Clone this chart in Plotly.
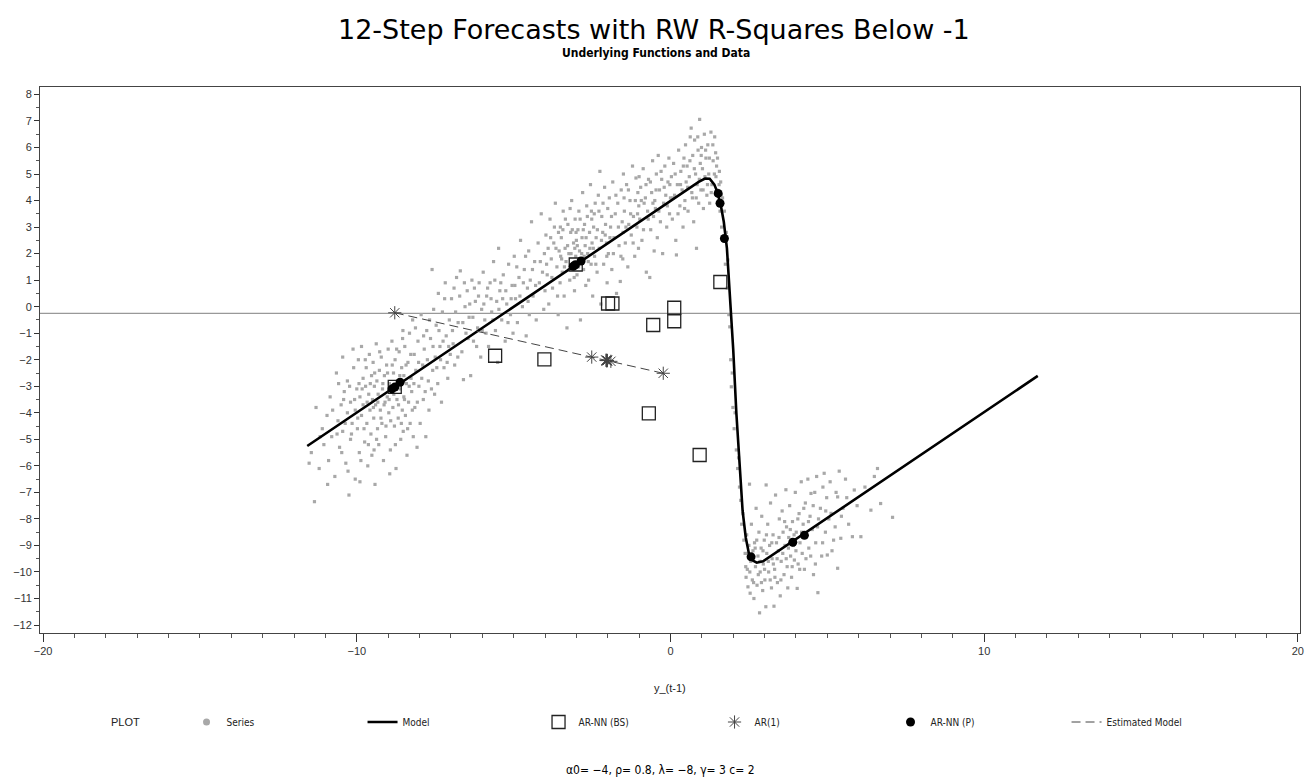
import plotly.graph_objects as go

# ---------------- data ----------------
series_left = [
    [-11.45, -5.5], [-11.35, -7.35], [-11.3, -3.8], [-11.2, -6.1], [-11.1, -4.6], [-11.05, -5.2],
    [-10.95, -4.1], [-10.9, -5.8], [-10.85, -3.4], [-10.8, -4.9], [-10.7, -6.4], [-10.65, -2.5],
    [-10.6, -4.3], [-10.55, -5.3], [-10.5, -3.7],
    [-10.45, -1.9], [-10.45, -4.7], [-10.4, -3.2], [-10.35, -5.9], [-10.3, -4.0], [-10.3, -2.8],
    [-10.25, -7.1], [-10.2, -3.6], [-10.2, -5.0], [-10.15, -4.4], [-10.1, -2.3], [-10.05, -3.9],
    [-10.05, -6.5], [-10.0, -3.1],
    [-9.98, -4.6], [-9.95, -2.0], [-9.92, -5.5], [-9.9, -3.4], [-9.85, -1.5], [-9.85, -4.1],
    [-9.8, -2.7], [-9.8, -3.7], [-9.75, -5.1], [-9.72, -3.0], [-9.7, -2.3], [-9.68, -4.4],
    [-9.65, -6.0], [-9.62, -3.3], [-9.6, -1.8], [-9.58, -3.9], [-9.55, -4.8], [-9.53, -2.6],
    [-9.52, -5.6], [-9.5, -3.5],
    [-9.48, -2.1], [-9.46, -4.2], [-9.44, -3.0], [-9.42, -6.7], [-9.4, -3.7], [-9.38, -1.4],
    [-9.36, -2.8], [-9.34, -4.6], [-9.32, -3.3], [-9.3, -5.2], [-9.28, -2.4], [-9.25, -3.9],
    [-9.22, -1.9], [-9.2, -4.4], [-9.18, -3.1], [-9.15, -5.8], [-9.12, -2.6], [-9.1, -3.6],
    [-9.08, -4.9], [-9.05, -2.2], [-9.03, -3.4], [-9.0, -1.6],
    [-8.98, -4.0], [-8.96, -2.9], [-8.93, -5.4], [-8.9, -3.2], [-8.88, -1.3], [-8.85, -3.8],
    [-8.83, -2.5], [-8.8, -4.5], [-8.78, -2.0], [-8.75, -6.1], [-8.72, -3.5], [-8.7, -2.8],
    [-8.68, -4.2], [-8.65, -1.7], [-8.62, -3.1], [-8.6, -5.0], [-8.57, -2.3], [-8.55, -3.9],
    [-8.53, -0.9], [-8.52, -4.7], [-8.5, -2.6], [-8.5, -3.4],
    [-8.47, -1.5], [-8.45, -4.1], [-8.42, -2.9], [-8.4, -5.6], [-8.37, -2.1], [-8.35, -3.6],
    [-8.32, -1.0], [-8.3, -4.4], [-8.27, -2.7], [-8.25, -3.2], [-8.22, -0.5], [-8.2, -4.9],
    [-8.17, -1.8], [-8.15, -3.8], [-8.12, -2.4], [-8.08, -5.3], [-8.05, -1.3], [-8.02, -3.0],
    [-7.98, -4.4], [-7.95, -0.3], [-7.9, -2.2], [-7.88, -3.5], [-7.85, -1.6], [-7.8, -4.9],
    [-7.77, -0.9], [-7.72, -2.8], [-7.7, -3.9], [-7.65, -1.2], [-7.6, 1.4], [-7.58, -2.4],
    [-7.55, -0.1], [-7.52, -3.3], [-7.5, -1.9],
    [-7.47, -0.7], [-7.42, -2.9], [-7.4, 0.5], [-7.35, -1.5], [-7.3, -3.6], [-7.27, -0.2],
    [-7.22, -2.3], [-7.18, 0.9], [-7.15, -1.1], [-7.1, -2.7], [-7.05, -0.5], [-7.02, -1.8],
    [-11.52, -5.9], [-11.17, -4.9], [-10.93, -6.7], [-10.77, -3.9], [-10.63, -4.8], [-10.58, -2.9],
    [-10.42, -3.5], [-10.37, -4.4], [-10.28, -6.2], [-10.23, -3.0], [-10.17, -4.8], [-10.12, -1.6],
    [-10.07, -3.5], [-9.97, -4.2], [-9.93, -2.9], [-9.87, -5.8], [-9.83, -3.1], [-9.77, -4.6],
    [-9.73, -2.0], [-9.67, -3.6], [-9.63, -5.2], [-9.57, -2.9], [-9.47, -3.8], [-9.43, -2.5],
    [-9.37, -5.0], [-9.33, -3.6], [-9.27, -1.7], [-9.23, -4.2], [-9.17, -2.9], [-9.13, -3.7],
    [-9.07, -4.5], [-9.02, -2.5], [-8.97, -3.5], [-8.92, -4.3], [-8.87, -2.2], [-8.82, -3.3],
    [-8.77, -5.2], [-8.73, -1.6], [-8.67, -3.7], [-8.63, -2.6], [-8.58, -4.4], [-8.54, -1.2],
    [-8.48, -3.5], [-8.43, -2.2], [-8.38, -4.6], [-8.33, -3.0], [-8.28, -1.8], [-8.23, -3.9],
    [-8.18, -2.9], [-8.13, -0.8], [-8.07, -3.6], [-8.03, -2.1], [-7.93, -2.7], [-7.87, -1.1],
    [-7.82, -3.2], [-7.75, -2.0], [-7.68, -0.5], [-7.62, -3.1], [-7.57, -1.5], [-7.45, -2.3],
    [-7.38, -0.9], [-7.33, -2.0], [-7.25, -1.3], [-7.2, 0.3], [-7.12, -2.1], [-7.07, -1.5],
    [-10.48, -5.5], [-9.9, -6.6], [-9.45, -5.4], [-8.95, -6.3],
]

series_middle = [
    [-6.98, 0.3], [-6.93, -1.4], [-6.88, -2.2], [-6.82, 1.1], [-6.77, -0.6], [-6.7, 1.35],
    [-6.65, -1.7], [-6.6, -2.75], [-6.55, 0.0], [-6.52, -1.0],
    [-6.48, 0.6], [-6.42, -0.4], [-6.37, -2.6], [-6.33, 1.0], [-6.28, -1.3], [-6.22, 0.2],
    [-6.15, -0.8], [-6.1, 0.9], [-6.05, -1.9], [-6.02, -0.1],
    [-5.97, 1.3], [-5.92, -0.5], [-5.86, 0.4], [-5.8, -1.5], [-5.75, 0.9], [-5.7, -0.2],
    [-5.64, 1.7], [-5.58, -0.9], [-5.54, 0.2], [-5.51, -2.1],
    [-5.48, 2.2], [-5.44, 0.6], [-5.38, -0.5], [-5.33, 1.2], [-5.27, -1.3], [-5.22, 0.1],
    [-5.16, 1.6], [-5.1, -0.3], [-5.05, 0.8], [-5.02, -1.0],
    [-4.98, 1.9], [-4.94, 0.3], [-4.88, -0.6], [-4.83, 1.1], [-4.78, 2.5], [-4.72, 0.0],
    [-4.66, 1.4], [-4.6, -1.1], [-4.56, 0.7], [-4.52, 2.1], [-4.5, -0.3],
    [-4.47, 1.0], [-4.43, 3.2], [-4.38, 0.4], [-4.33, 1.7], [-4.28, -0.5], [-4.22, 2.4],
    [-4.18, 0.9], [-4.12, 3.5], [-4.08, 1.3], [-4.04, -0.1], [-4.02, 2.0], [-4.0, 0.6],
    [-6.95, -0.9], [-6.9, 0.7], [-6.85, -0.2], [-6.78, -1.9], [-6.72, 0.4], [-6.62, -0.6],
    [-6.57, 0.9], [-6.45, -1.2], [-6.4, 0.1], [-6.3, -0.4], [-6.25, 0.7], [-6.18, -1.5],
    [-6.12, 0.4], [-6.0, -0.9], [-5.95, 0.1], [-5.88, -1.0], [-5.83, 0.7], [-5.72, 0.3],
    [-5.66, -0.5], [-5.6, 1.0], [-5.47, -0.1], [-5.41, 0.9], [-5.35, 0.3], [-5.25, 0.6],
    [-5.18, -0.6], [-5.08, 0.3], [-4.96, 0.8], [-4.9, 1.5], [-4.8, 0.4], [-4.69, 0.9],
    [-4.62, 1.9], [-4.54, 0.2], [-4.4, 1.4], [-4.3, 0.8], [-4.15, 1.7],
]

series_upper = [
    [-3.97, 2.7], [-3.93, 1.2], [-3.88, 0.1], [-3.84, 3.3], [-3.8, 1.8], [-3.76, 0.7],
    [-3.72, 2.4], [-3.67, 3.9], [-3.62, 1.5], [-3.58, -0.3], [-3.55, 2.1], [-3.52, 0.9],
    [-3.51, 3.0], [-3.5, 1.9],
    [-3.48, 2.6], [-3.45, 1.3], [-3.42, 3.6], [-3.39, 0.4], [-3.36, 2.2], [-3.33, 1.7],
    [-3.3, -0.8], [-3.27, 3.1], [-3.24, 2.0], [-3.21, 1.0], [-3.18, 2.8], [-3.15, 4.0],
    [-3.12, 1.5], [-3.09, 2.4], [-3.06, 0.6], [-3.04, 3.3], [-3.02, 1.9], [-3.0, 2.5],
    [-2.98, 1.2], [-2.95, 2.9], [-2.92, 3.6], [-2.9, 2.1], [-2.87, -0.5], [-2.85, 1.7],
    [-2.82, 2.6], [-2.8, 4.3], [-2.77, 1.4], [-2.74, 3.1], [-2.72, 2.3], [-2.7, 0.8],
    [-2.67, 3.8], [-2.64, 2.0], [-2.61, 1.0], [-2.58, 2.8], [-2.55, 4.6], [-2.53, 1.6],
    [-2.51, 3.3], [-2.5, 2.4],
    [-2.48, 0.4], [-2.45, 3.0], [-2.42, 1.9], [-2.4, 3.9], [-2.37, 2.6], [-2.34, 1.3],
    [-2.3, 4.2], [-2.27, 2.2], [-2.25, 5.1], [-2.22, 0.1], [-2.19, 3.4], [-2.16, 2.8],
    [-2.13, 1.6], [-2.1, 4.5], [-2.07, 3.1], [-2.04, 2.4], [-2.02, 0.9], [-2.0, 3.7],
    [-1.98, 2.0], [-1.95, 4.1], [-1.91, 3.0], [-1.87, 1.4], [-1.84, 4.7], [-1.8, 2.6],
    [-1.76, 3.5], [-1.72, 0.5], [-1.68, 3.9], [-1.64, 2.3], [-1.6, 0.95], [-1.57, 4.4],
    [-1.54, 3.2], [-1.52, 1.8], [-1.51, 2.8], [-1.5, 5.0],
    [-1.47, 3.6], [-1.44, 2.4], [-1.4, 4.6], [-1.36, 1.5], [-1.33, 3.1], [-1.29, 4.0],
    [-1.25, 2.7], [-1.21, 5.3], [-1.18, 3.4], [-1.14, 1.9], [-1.1, 4.85], [-1.07, 3.0],
    [-1.04, 4.3], [-1.02, 2.2], [-1.01, 3.8], [-1.0, 4.9],
    [-0.98, 3.3], [-0.95, 4.5], [-0.91, 2.5], [-0.87, 5.2], [-0.84, 3.9], [-0.8, 4.1],
    [-0.77, 1.3], [-0.73, 3.6], [-0.7, 4.8], [-0.66, 1.1], [-0.63, 2.9], [-0.6, 4.3],
    [-0.57, 5.5], [-0.54, 3.4], [-0.52, 2.1], [-0.5, 4.0],
    [-0.48, 3.7], [-0.45, 5.0], [-0.42, 2.6], [-0.39, 5.7], [-0.35, 4.4], [-0.32, 3.2],
    [-0.28, 4.8], [-0.25, 2.0], [-0.22, 3.9], [-0.18, 5.3], [-0.15, 4.2], [-0.12, 3.0],
    [-0.08, 4.7], [-0.05, 5.6], [-0.03, 3.5], [0.0, 4.1],
    [0.03, 4.9], [0.06, 3.3], [0.1, 5.4], [0.13, 4.2], [0.17, 2.5], [0.19, 1.95],
    [0.22, 4.6], [0.26, 5.9], [0.3, 3.8], [0.33, 5.1], [0.37, 4.4], [0.4, 3.0],
    [0.43, 5.6], [0.46, 4.0], [0.48, 6.1], [0.5, 4.7],
    [0.53, 5.3], [0.56, 3.6], [0.6, 4.9], [0.63, 6.4], [0.66, 6.73], [0.68, 4.3],
    [0.71, 5.7], [0.74, 3.2], [0.77, 6.28], [0.8, 5.0], [0.83, 2.2], [0.85, 4.6],
    [0.88, 5.9], [0.9, 3.9], [0.93, 7.06], [0.95, 5.4], [0.97, 4.4], [0.99, 6.0],
    [1.02, 5.2], [1.05, 3.7], [1.08, 6.5], [1.1, 4.9], [1.13, 5.6], [1.16, 4.2],
    [1.19, 6.1], [1.22, 5.0], [1.25, 3.9], [1.29, 6.58], [1.32, 4.6], [1.36, 5.5],
    [1.41, 6.4], [1.45, 4.9],
    [-3.95, 1.6], [-3.9, 2.2], [-3.82, 2.6], [-3.78, 1.1], [-3.7, 3.0], [-3.65, 2.2],
    [-3.6, 0.4], [-3.57, 2.8], [-3.47, 1.8], [-3.43, 2.9], [-3.38, 1.5], [-3.35, 3.3],
    [-3.28, 2.3], [-3.23, 1.4], [-3.2, 3.7], [-3.17, 2.0], [-3.13, 2.9], [-3.07, 1.1],
    [-3.05, 2.2], [-3.01, 2.8], [-2.97, 2.3], [-2.93, 1.5], [-2.88, 3.3], [-2.83, 2.0],
    [-2.78, 2.9], [-2.75, 1.9], [-2.69, 2.6], [-2.65, 3.4], [-2.62, 1.7], [-2.57, 2.2],
    [-2.52, 3.6], [-2.46, 2.2], [-2.43, 3.5], [-2.38, 1.6], [-2.33, 2.9], [-2.28, 3.6],
    [-2.2, 2.5], [-2.15, 3.9], [-2.08, 2.7], [-2.03, 1.9], [-1.93, 2.6], [-1.88, 3.4],
    [-1.82, 2.0], [-1.74, 4.2], [-1.66, 3.0], [-1.58, 1.9], [-1.48, 4.1], [-1.42, 3.0],
    [-1.34, 4.4], [-1.27, 3.5], [-1.19, 2.4], [-1.12, 4.0], [-1.05, 3.5], [-0.93, 4.0],
    [-0.86, 2.9], [-0.78, 4.6], [-0.71, 3.3], [-0.64, 4.7], [-0.56, 3.9], [-0.46, 4.4],
    [-0.37, 3.6], [-0.3, 5.1], [-0.2, 4.5], [-0.1, 3.8], [-0.02, 4.6], [0.08, 4.1],
    [0.15, 5.0], [0.24, 3.5], [0.32, 4.6], [0.41, 5.3], [0.45, 3.7], [0.55, 4.5],
    [0.62, 5.5], [0.7, 4.1], [0.76, 5.2], [0.82, 4.1], [0.87, 6.4], [0.92, 4.8],
    [0.98, 5.7], [1.04, 4.4], [1.12, 5.9], [1.18, 4.6], [1.24, 5.6], [1.3, 4.3],
    [1.35, 6.1], [1.4, 5.0], [1.44, 5.8], [1.47, 5.3], [1.55, 4.6], [1.62, 4.2],
]

series_transition = [
    [1.48, 4.4], [1.5, 5.6], [1.53, 4.0], [1.56, 5.1], [1.58, 3.6], [1.6, 4.7],
    [1.63, 3.0], [1.66, 4.1], [1.69, 2.6], [1.72, 3.6], [1.75, 1.6], [1.78, 2.8],
    [1.81, 0.7], [1.83, 1.76], [1.86, -0.3], [1.89, -0.76], [1.92, -2.0], [1.94, -3.02],
    [1.97, -2.5], [1.99, -3.8], [2.03, -4.6], [2.06, -4.0], [2.1, -5.4], [2.14, -6.1],
    [2.17, -5.7], [2.2, -6.8], [2.24, -7.3], [2.27, -8.2], [2.31, -7.8], [2.34, -8.8],
]

series_lower = [
    [2.38, -9.3], [2.41, -10.2], [2.43, -8.6], [2.45, -9.9], [2.47, -10.56], [2.5, -9.0],
    [2.52, -6.69], [2.54, -10.8], [2.56, -9.6], [2.58, -8.2], [2.61, -10.3], [2.63, -9.2],
    [2.66, -11.0], [2.68, -8.9], [2.71, -9.8], [2.73, -7.6],
    [2.76, -10.5], [2.79, -9.4], [2.82, -8.5], [2.84, -11.54], [2.86, -10.0], [2.89, -9.1],
    [2.91, -7.9], [2.94, -10.7], [2.96, -9.7], [2.99, -8.8], [3.01, -10.3], [3.04, -11.31],
    [3.05, -6.72], [3.07, -9.3], [3.1, -8.2], [3.13, -10.0], [3.16, -9.0], [3.19, -7.4],
    [3.22, -10.6], [3.24, -9.5],
    [3.27, -8.6], [3.3, -11.29], [3.32, -9.9], [3.35, -7.1], [3.38, -8.9], [3.41, -10.4],
    [3.44, -9.2], [3.47, -8.0], [3.5, -10.9], [3.53, -9.6], [3.56, -7.7], [3.59, -8.5],
    [3.62, -10.1], [3.65, -9.0], [3.68, -6.9], [3.7, -8.3], [3.72, -9.8], [3.74, -10.6],
    [3.77, -8.7], [3.8, -7.5], [3.83, -9.4], [3.86, -10.2], [3.89, -8.1], [3.92, -9.0],
    [3.95, -9.55], [3.98, -7.0], [4.01, -8.5], [4.04, -10.62], [4.07, -9.7], [4.1, -7.8],
    [4.13, -8.9], [4.17, -6.6], [4.2, -9.3], [4.23, -8.2],
    [4.27, -9.9], [4.3, -7.4], [4.34, -8.6], [4.38, -6.5], [4.41, -9.1], [4.45, -7.9],
    [4.48, -7.04], [4.52, -8.4], [4.56, -10.1], [4.6, -7.0], [4.63, -8.9], [4.66, -6.4],
    [4.69, -8.3], [4.7, -10.78],
    [4.78, -7.6], [4.82, -9.4], [4.86, -6.8], [4.9, -6.28], [4.94, -8.5], [4.98, -7.2],
    [5.0, -9.36], [5.05, -8.0], [5.09, -6.6], [5.12, -7.79], [5.2, -8.8],
    [5.28, -7.0], [5.33, -9.86], [5.33, -7.17], [5.38, -6.2], [5.43, -8.73], [5.5, -7.6],
    [5.58, -6.5], [5.68, -8.2],
    [5.8, -8.67], [5.86, -6.91], [5.95, -7.5], [6.07, -8.67], [6.2, -6.8], [6.39, -7.67],
    [6.5, -6.4], [6.6, -6.1], [6.7, -7.42], [7.08, -7.94],
    [2.4, -9.8], [2.46, -9.3], [2.53, -10.0], [2.6, -9.5], [2.65, -10.4], [2.7, -9.1],
    [2.75, -8.8], [2.8, -10.1], [2.85, -9.6], [2.9, -10.4], [2.95, -9.2], [3.0, -9.9],
    [3.06, -8.6], [3.12, -9.6], [3.18, -10.3], [3.23, -8.9], [3.28, -9.7], [3.33, -10.2],
    [3.4, -9.5], [3.46, -8.7], [3.52, -10.3], [3.58, -9.3], [3.64, -8.1], [3.69, -9.5],
    [3.76, -9.1], [3.82, -8.4], [3.88, -9.8], [3.94, -8.6], [4.0, -9.2], [4.06, -8.0],
    [4.12, -9.9], [4.18, -8.5], [4.25, -7.6], [4.32, -9.5], [4.4, -8.1], [4.47, -9.4],
    [4.55, -7.5], [4.62, -9.7], [4.72, -8.0], [4.85, -8.9], [4.95, -7.7], [5.15, -9.2],
    [5.25, -8.3], [5.45, -7.9], [5.62, -7.2],
]

model_x = [-11.58, -3.0, 0.5, 0.9, 1.1, 1.25, 1.4, 1.5, 1.6, 1.7, 1.8, 1.9, 2.0, 2.1,
           2.2, 2.3, 2.4, 2.5, 2.6, 2.75, 2.95, 3.2, 3.6, 11.71]
model_y = [-5.25, 1.6, 4.4, 4.7, 4.83, 4.82, 4.6, 4.3, 3.85, 3.2, 2.2, 0.5, -1.6, -4.0,
           -6.1, -7.7, -8.7, -9.3, -9.55, -9.65, -9.6, -9.4, -9.1, -2.61]

bs_x = [-8.79, -3.02, 1.59, 0.93, -5.59, -1.85, 0.12, -0.55, -0.69, -4.02, -1.99, 0.12]
bs_y = [-3.02, 1.59, 0.93, -5.59, -1.85, 0.12, -0.55, -0.69, -4.02, -1.99, 0.12, -0.04]

ar1_x = [-8.79, -0.23, -2.51, -1.90, -2.06, -2.02, -2.03, -2.03, -2.03, -2.03, -2.03, -2.03]
ar1_y = [-0.23, -2.51, -1.90, -2.06, -2.02, -2.03, -2.03, -2.03, -2.03, -2.03, -2.03, -2.03]

nnp_x = [-8.79, -3.03, 1.58, 3.90, -8.88, -3.10, 1.52, 4.27, -8.62, -2.85, 1.72, 2.57]
nnp_y = [-3.03, 1.58, 3.90, -8.88, -3.10, 1.52, 4.27, -8.62, -2.85, 1.72, 2.57, -9.43]

est_x = [-8.79, -0.23]
est_y = [-0.23, -2.51]

ref_y = -0.25

x_ticks = [-20, -10, 0, 10, 20]
y_ticks = list(range(-12, 9))

title_text = "12-Step Forecasts with RW R-Squares Below -1"
subtitle_text = "Underlying Functions and Data"
footnote_text = "α0= \u22124, ρ= 0.8, λ= \u22128, γ= 3 c= 2"

# ---------------- figure ----------------
all_series = series_left + series_middle + series_upper + series_transition + series_lower
ser_x = [p[0] for p in all_series]
ser_y = [p[1] for p in all_series]

GRAY = "#a8a8a8"
fig = go.Figure()

fig.add_trace(go.Scatter(x=ser_x, y=ser_y, mode="markers", name="Series", showlegend=False,
                         marker=dict(symbol="square", size=3.2, color=GRAY, line=dict(width=0))))
fig.add_trace(go.Scatter(x=[None], y=[None], mode="markers", name="Series", legendrank=1,
                         marker=dict(symbol="circle", size=7, color=GRAY)))
fig.add_trace(go.Scatter(x=model_x, y=model_y, mode="lines", name="Model", legendrank=2,
                         line=dict(color="#000000", width=2.6)))
fig.add_trace(go.Scatter(x=est_x, y=est_y, mode="lines", name="Estimated Model", legendrank=6,
                         line=dict(color="#444444", width=1, dash="9px,5px")))
fig.add_trace(go.Scatter(x=bs_x, y=bs_y, mode="markers", name="AR-NN (BS)", legendrank=3,
                         marker=dict(symbol="square-open", size=13, color="#222222",
                                     line=dict(width=1.3, color="#222222"))))
fig.add_trace(go.Scatter(x=ar1_x, y=ar1_y, mode="markers", name="AR(1)", legendrank=4,
                         marker=dict(symbol="asterisk-open", size=11, color="#444444",
                                     line=dict(width=1, color="#444444"))))
fig.add_trace(go.Scatter(x=nnp_x, y=nnp_y, mode="markers", name="AR-NN (P)", legendrank=5,
                         marker=dict(symbol="circle", size=9, color="#000000")))

fig.add_hline(y=ref_y, line=dict(color="#999999", width=1.2), layer="below")

L, R, T, B = 40, 6, 87, 146
W, H = 1310, 779
PW, PH = W - L - R, H - T - B


def px(xp):
    return (xp - L) / PW


def py(yp):
    return (H - B - yp) / PH


axis_font = dict(family="Liberation Sans, Arial, sans-serif", size=11, color="#333333")
fig.update_xaxes(range=[-20.1, 20.07], tickvals=x_ticks, ticks="outside", ticklen=8, tickwidth=1,
                 tickcolor="#333333", showline=True, linecolor="#444444", linewidth=1, mirror=True,
                 showgrid=False, zeroline=False, tickfont=axis_font,
                 minor=dict(dtick=1, tick0=0, ticks="outside", ticklen=4, tickcolor="#555555", showgrid=False))
fig.update_yaxes(range=[-12.3, 8.28], tickvals=y_ticks, ticks="outside", ticklen=5, tickwidth=1,
                 tickcolor="#333333", showline=True, linecolor="#444444", linewidth=1, mirror=True,
                 showgrid=False, zeroline=False, tickfont=axis_font,
                 minor=dict(dtick=0.5, tick0=0, ticks="outside", ticklen=3, tickcolor="#555555", showgrid=False))

fig.update_layout(
    width=W, height=H, autosize=False,
    margin=dict(l=L, r=R, t=T, b=B, pad=0),
    paper_bgcolor="white", plot_bgcolor="white",
    showlegend=True,
    legend=dict(orientation="h", x=px(187), xanchor="left", y=py(722), yanchor="middle",
                entrywidth=131, entrywidthmode="pixels", traceorder="normal",
                font=dict(family="Liberation Sans Narrow, DejaVu Sans Condensed, Arial, sans-serif",
                          size=10, color="#222222"),
                bgcolor="rgba(0,0,0,0)", itemclick=False, itemdoubleclick=False),
    annotations=[
        dict(text=title_text, x=px(656), y=py(30), xref="paper", yref="paper",
             showarrow=False, xanchor="center", yanchor="middle",
             font=dict(family="DejaVu Sans, sans-serif", size=27, color="#000000")),
        dict(text="<b>" + subtitle_text + "</b>", x=px(658), y=py(53), xref="paper", yref="paper",
             showarrow=False, xanchor="center", yanchor="middle",
             font=dict(family="Liberation Sans Narrow, DejaVu Sans Condensed, sans-serif", size=12,
                       color="#000000")),
        dict(text="y_(t-1)", x=px(672), y=py(688), xref="paper", yref="paper", showarrow=False,
             xanchor="center", yanchor="middle",
             font=dict(family="Liberation Sans, Arial, sans-serif", size=11, color="#222222")),
        dict(text="PLOT", x=px(126), y=py(722), xref="paper", yref="paper", showarrow=False,
             xanchor="center", yanchor="middle",
             font=dict(family="Liberation Sans Narrow, Arial, sans-serif", size=11, color="#222222")),
        dict(text=footnote_text, x=px(662), y=py(770), xref="paper", yref="paper", showarrow=False,
             xanchor="center", yanchor="middle",
             font=dict(family="Liberation Sans Narrow, DejaVu Sans Condensed, sans-serif", size=12,
                       color="#000000")),
    ],
)

fig.write_html("out.html", config={"displayModeBar": False},
               post_script="document.body.style.margin='0';document.body.style.overflow='hidden';")
